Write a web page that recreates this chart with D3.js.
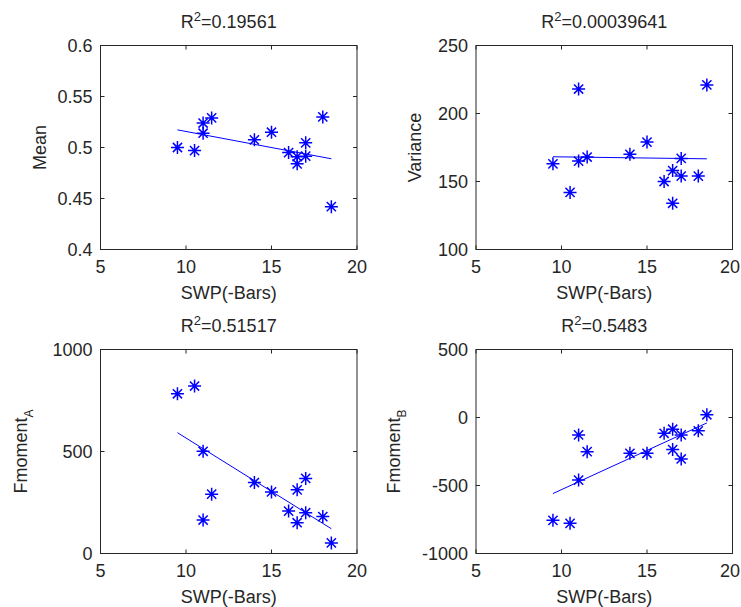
<!DOCTYPE html>
<html>
<head>
<meta charset="utf-8">
<script src="https://cdn.jsdelivr.net/npm/d3@7"></script>
<style>
  body { margin: 0; background: #fff; }
  text { font-family: "Liberation Sans", Arial, sans-serif; fill: #262626; }
</style>
</head>
<body>
<svg id="chart" width="741" height="607"></svg>
<script>
// soil water potential for every sample (same for all four panels)
var swp = [9.5, 10.5, 11, 11, 11.5, 14, 15, 16, 16.5, 16.5, 17, 17, 18, 18.5];

var meanVals = [0.500, 0.497, 0.524, 0.514, 0.529, 0.5075, 0.515, 0.495, 0.491, 0.484, 0.4915, 0.5046, 0.530, 0.442];
var varianceVals = [163, 142, 218, 165, 168, 170, 179, 150, 158, 134, 167, 154, 154, 221];
var fmomentA = [783, 821, 501, 164, 291, 348, 302, 208, 312, 151, 368, 200, 181, 52];
var fmomentB = [-756, -778, -128, -460, -251, -263, -263, -116, -86, -236, -128, -305, -98, 20];

var xTicks = [5, 10, 15, 20];
var titles = ["0.19561", "0.00039641", "0.51517", "0.5483"];

var panels = [
  {y: meanVals, label: "Mean", sub: "", domain: [0.4, 0.6], ticks: [0.4, 0.45, 0.5, 0.55, 0.6], col: 0, row: 0},
  {y: varianceVals, label: "Variance", sub: "", domain: [100, 250], ticks: [100, 150, 200, 250], col: 1, row: 0},
  {y: fmomentA, label: "Fmoment", sub: "A", domain: [0, 1000], ticks: [0, 500, 1000], col: 0, row: 1},
  {y: fmomentB, label: "Fmoment", sub: "B", domain: [-1000, 500], ticks: [-1000, -500, 0, 500], col: 1, row: 1}
];

var svg = d3.select("#chart");
var panelLeft = [100.5, 476], panelTop = [45.5, 349.5];
var w = 256.5, h = 204;
var labelX = [[46, 421], [27, 400]];

panels.forEach(function(p, i) {
  var g = svg.append("g").attr("transform", "translate(" + panelLeft[p.col] + "," + panelTop[p.row] + ")");
  var x = d3.scaleLinear().domain([5, 20]).range([0, w]);
  var y = d3.scaleLinear().domain(p.domain).range([h, 0]);

  // box with inward ticks on all four sides
  g.append("rect").attr("width", w).attr("height", h)
    .attr("fill", "none").attr("stroke", "#262626").attr("stroke-width", 1);

  var tk = 4;
  xTicks.forEach(function(t) {
    g.append("line").attr("x1", x(t)).attr("x2", x(t)).attr("y1", h).attr("y2", h - tk).attr("stroke", "#262626");
    g.append("line").attr("x1", x(t)).attr("x2", x(t)).attr("y1", 0).attr("y2", tk).attr("stroke", "#262626");
    // keep the last label inside the window
    var tx = Math.min(x(t), 730 - panelLeft[p.col]);
    g.append("text").attr("x", tx).attr("y", h + 23).attr("text-anchor", "middle")
      .style("font-size", "18px").text(t);
  });
  p.ticks.forEach(function(t) {
    g.append("line").attr("x1", 0).attr("x2", tk).attr("y1", y(t)).attr("y2", y(t)).attr("stroke", "#262626");
    g.append("line").attr("x1", w).attr("x2", w - tk).attr("y1", y(t)).attr("y2", y(t)).attr("stroke", "#262626");
    g.append("text").attr("x", -8).attr("y", y(t)).attr("dy", "0.35em").attr("text-anchor", "end")
      .style("font-size", "18px").text(t);
  });

  // least squares fit
  var mx = d3.mean(swp), my = d3.mean(p.y);
  var sxy = d3.sum(swp, function(v, k) { return (v - mx) * (p.y[k] - my); });
  var sxx = d3.sum(swp, function(v) { return (v - mx) * (v - mx); });
  var b = sxy / sxx, a = my - b * mx;
  var ext = d3.extent(swp);
  g.append("line")
    .attr("x1", x(ext[0])).attr("y1", y(a + b * ext[0]))
    .attr("x2", x(ext[1])).attr("y2", y(a + b * ext[1]))
    .attr("stroke", "#0000ff").attr("stroke-width", 1);

  // star markers
  var s = 6.5, d = 4.6;
  var star = "M" + (-s) + ",0H" + s + "M0," + (-s) + "V" + s +
    "M" + (-d) + "," + (-d) + "L" + d + "," + d + "M" + (-d) + "," + d + "L" + d + "," + (-d);
  g.selectAll("path.star").data(p.y).enter().append("path")
    .attr("class", "star")
    .attr("d", star)
    .attr("transform", function(v, k) { return "translate(" + x(swp[k]) + "," + y(v) + ")"; })
    .attr("fill", "none").attr("stroke", "#0000ff").attr("stroke-width", 1.5);

  // title
  var tt = g.append("text").attr("x", w / 2).attr("y", -18).attr("text-anchor", "middle")
    .style("font-size", "18px");
  tt.append("tspan").text("R");
  tt.append("tspan").attr("dy", -7).style("font-size", "13px").text("2");
  tt.append("tspan").attr("dy", 7).text("=" + titles[i]);

  // x label
  g.append("text").attr("x", w / 2).attr("y", h + 49).attr("text-anchor", "middle")
    .style("font-size", "18px").text("SWP(-Bars)");

  // y label
  var lx = labelX[p.row][p.col] - panelLeft[p.col];
  var yl = g.append("text").attr("transform", "translate(" + lx + "," + (h / 2) + ") rotate(-90)")
    .attr("text-anchor", "middle").style("font-size", "18px");
  yl.append("tspan").text(p.label);
  if (p.sub) yl.append("tspan").attr("dy", 6).style("font-size", "12px").text(p.sub);
});
</script>
</body>
</html>
